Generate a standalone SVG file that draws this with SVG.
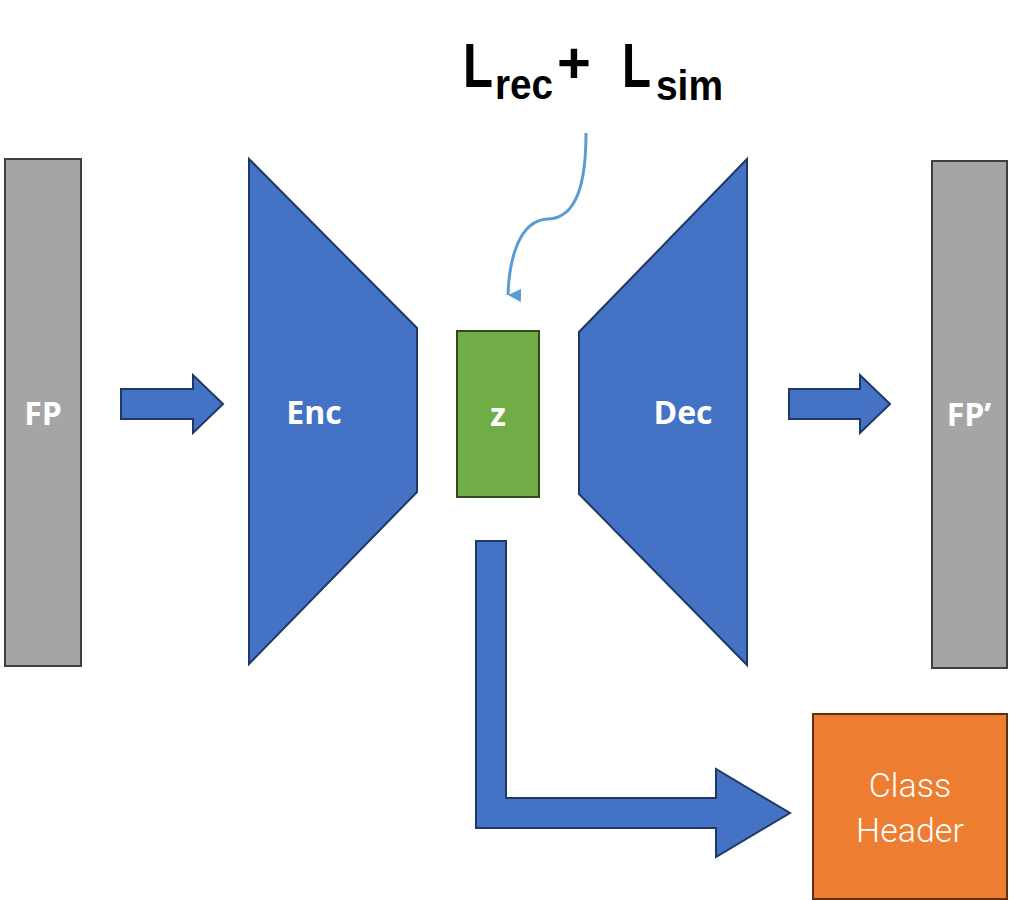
<svg xmlns="http://www.w3.org/2000/svg" width="1018" height="900" viewBox="0 0 1018 900">
<style>
.blue{fill:#4472C4;stroke:#1F3864;stroke-width:2;stroke-linejoin:miter}
.gray{fill:#A5A5A5;stroke:#404040;stroke-width:2}
.lbl{font-family:"Open Sans","Liberation Sans",sans-serif;font-weight:bold;font-size:32px;fill:#FFFFFF;text-anchor:middle}
.loss{font-family:"Liberation Sans",Arial,sans-serif;font-weight:bold;fill:#000000}
.ch{font-family:Roboto,"Liberation Sans",sans-serif;font-weight:300;font-size:34px;fill:#FFFFFF;text-anchor:middle}
</style>
<defs>
<marker id="ah" viewBox="0 0 10 10" refX="5" refY="10" markerWidth="13" markerHeight="13" markerUnits="userSpaceOnUse" orient="auto">
<path d="M0,0 L10,0 L5,10 Z" fill="#5B9BD5"/>
</marker>
</defs>
<rect width="1018" height="900" fill="#FFFFFF"/>
<g id="fp">
<rect class="gray" x="5" y="159" width="76" height="507"/>
<text class="lbl" x="43" y="425">FP</text>
</g>
<g id="enc">
<polygon class="blue" points="249,159 417,328 417,492 249,664"/>
<text class="lbl" x="314" y="424">Enc</text>
</g>
<g id="z">
<rect x="457" y="331" width="82" height="166" fill="#70AD47" stroke="#2E4A1E" stroke-width="2"/>
<text class="lbl" x="498" y="426">z</text>
</g>
<g id="dec">
<polygon class="blue" points="747,159 579,332 579,494 747,665"/>
<text class="lbl" x="683" y="424">Dec</text>
</g>
<g id="fpp">
<rect class="gray" x="932" y="161" width="75" height="507"/>
<text class="lbl" x="969" y="426">FP’</text>
</g>
<g id="classheader">
<rect x="813" y="714" width="194" height="185" fill="#ED7D31" stroke="#5E300E" stroke-width="2"/>
<text class="ch" x="910" y="797">Class</text>
<text class="ch" x="910" y="842">Header</text>
</g>
<g id="loss">
<text class="loss"><tspan x="463" y="87" font-size="63" textLength="30" lengthAdjust="spacingAndGlyphs">L</tspan><tspan x="495" y="99" font-size="42" textLength="58" lengthAdjust="spacingAndGlyphs">rec</tspan><tspan x="557" y="83" font-size="58">+</tspan><tspan x="622" y="87" font-size="63" textLength="29" lengthAdjust="spacingAndGlyphs">L</tspan><tspan x="656" y="100" font-size="42" textLength="67" lengthAdjust="spacingAndGlyphs">sim</tspan></text>
</g>
<g id="connectors">
<polygon class="blue" points="121,389 193,389 193,375 223,404 193,433 193,419 121,419"/>
<polygon class="blue" points="789,389 860,389 860,375 890,404 860,433 860,419 789,419"/>
<polygon class="blue" points="476,541 506,541 506,798 716,798 716,769 790,813 716,857 716,828 476,828"/>
<path d="M586,133 C586,180 578,218 548,219 C518,220 509,262 508,295" fill="none" stroke="#5B9BD5" stroke-width="3" marker-end="url(#ah)"/>
</g>
</svg>
